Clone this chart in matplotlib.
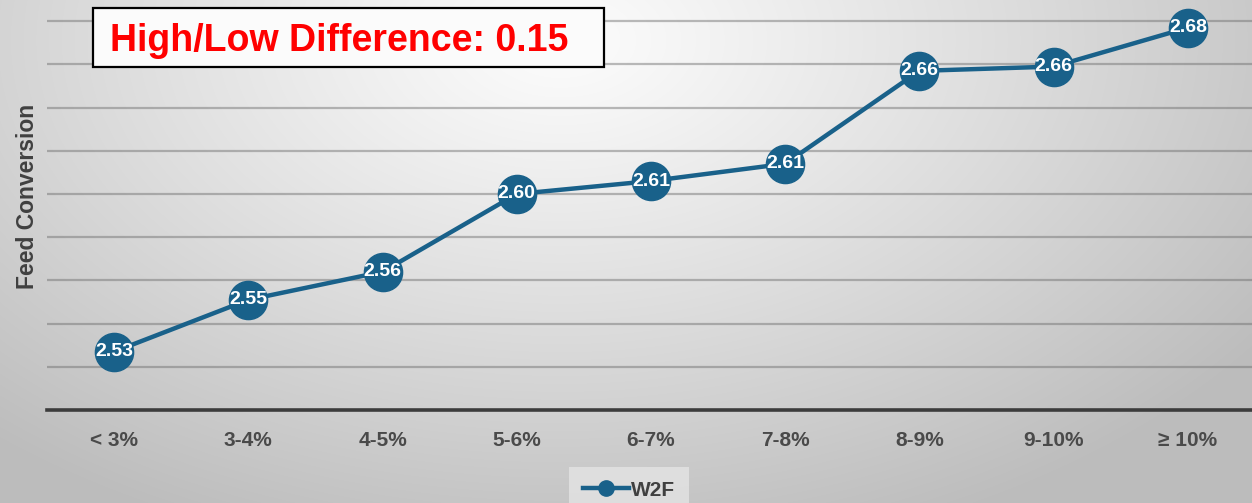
import numpy as np
import matplotlib
matplotlib.use("Agg")
import matplotlib.pyplot as plt
from matplotlib.patches import Rectangle

categories = ["< 3%", "3-4%", "4-5%", "5-6%", "6-7%", "7-8%", "8-9%", "9-10%", "\u2265 10%"]
w2f = [2.527, 2.551, 2.564, 2.600, 2.606, 2.614, 2.657, 2.659, 2.677]
series_name = "W2F"
title_text = "High/Low Difference: 0.15"
y_label = "Feed Conversion"
grid_ticks = [2.52, 2.54, 2.56, 2.58, 2.60, 2.62, 2.64, 2.66, 2.68]

W, H = 1252, 503
fig = plt.figure(figsize=(W / 100, H / 100), dpi=100)

# background gradient
bg = fig.add_axes([0, 0, 1, 1], zorder=-10)
yy, xx = np.mgrid[0:H, 0:W]
d = np.sqrt(((xx - 560) / 1.0) ** 2 + ((yy - 40) * 1.6) ** 2)
t = np.clip(d / 850.0, 0, 1)
v = 0.99 - 0.25 * t ** 1.1
img = np.dstack([v, v, v])
bg.imshow(img, extent=[0, 1, 0, 1], aspect="auto")
bg.axis("off")

color = "#19618a"
ax = fig.add_axes([47 / W, 1 - 410 / H, (1255 - 47) / W, 410 / H])
ax.patch.set_alpha(0)
x = np.arange(len(categories))
ax.plot(x, w2f, color=color, lw=3.2, marker="o", ms=27.5, zorder=3, clip_on=False, label=series_name)
for xi, yi in zip(x, w2f):
    ax.text(xi, yi, f"{yi:.2f}", color="white", fontsize=14, fontweight="bold",
            family="Liberation Sans", ha="center", va="center", zorder=4)

ax.set_xlim(-0.5, 8.5)
ax.set_ylim(2.50, 2.50 + 410 / 2160)
for g in grid_ticks:
    ax.axhline(g, color="#6a6a6a", alpha=0.45, lw=1.6, zorder=1)
ax.set_yticks([])
ax.set_xticks(x)
ax.set_xticklabels(categories, fontsize=15, fontweight="bold", color="#4a4a4a", family="Liberation Sans")
ax.tick_params(axis="x", length=0, pad=15)
for s in ["top", "right", "left"]:
    ax.spines[s].set_visible(False)
ax.spines["bottom"].set_color("#3c3c3c")
ax.spines["bottom"].set_linewidth(2.6)

fig.text(28 / W, 1 - 196 / H, y_label, rotation=90, fontsize=16.5, fontweight="bold",
         color="#404040", family="Liberation Sans", ha="center", va="center")

# title box
fig.patches.append(Rectangle((93 / W, 1 - 67 / H), (604 - 93) / W, (67 - 8) / H,
                             transform=fig.transFigure, facecolor="#fbfbfb", alpha=1.0,
                             edgecolor="black", lw=1.6, zorder=5))
fig.text(110 / W, 1 - 41 / H, title_text, color="#ff0000", fontsize=27, fontweight="bold",
         family="Liberation Sans", ha="left", va="center", zorder=6)

leg = fig.legend(loc="center", bbox_to_anchor=(629 / W, 1 - 490 / H), frameon=True,
                 handlelength=2.2, handletextpad=0.1, borderpad=0.35,
                 prop={"weight": "bold", "family": "Liberation Sans", "size": 15})
leg.get_frame().set_facecolor("#e4e4e4")
leg.get_frame().set_edgecolor("none")
leg.get_frame().set_boxstyle("square")
for h in leg.legend_handles:
    h.set_markersize(11)
for tx in leg.get_texts():
    tx.set_color("#404040")

fig.savefig("out.png", dpi=100)
